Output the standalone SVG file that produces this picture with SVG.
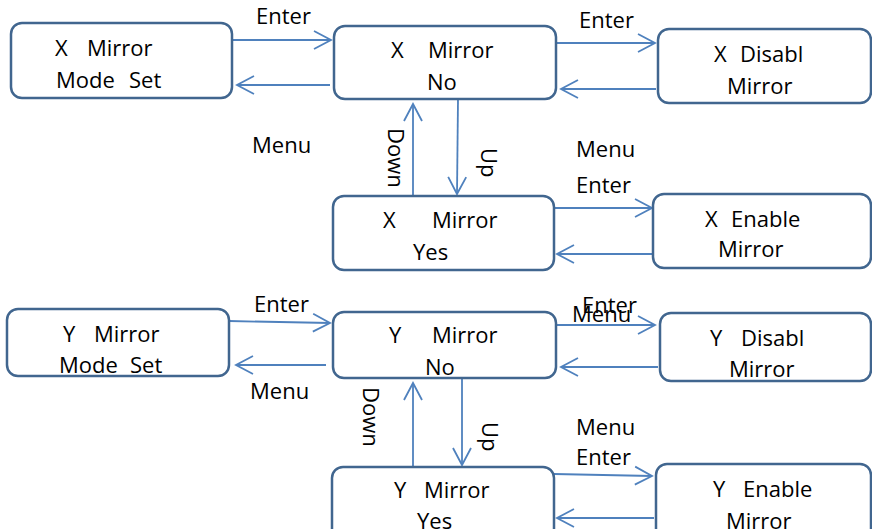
<svg xmlns="http://www.w3.org/2000/svg" width="872" height="529" viewBox="0 0 872 529">
<style>
.box{fill:#fff;stroke:#41668f;stroke-width:2.5}
.t{font-family:"Open Sans","Liberation Sans",sans-serif;font-size:22px;fill:#000}
.c{fill:none;stroke:#4f81bd;stroke-width:1.8}
</style>
<defs>
<marker id="ah" markerUnits="userSpaceOnUse" markerWidth="22" markerHeight="22" refX="17" refY="9" orient="auto" overflow="visible">
<path d="M0,0 L17,9 L0,18" fill="none" stroke="#4f81bd" stroke-width="1.8"/>
</marker>
</defs>
<rect width="872" height="529" fill="#fff"/>
<g id="connectors">
<path class="c" marker-end="url(#ah)" d="M232,40 L331,40"/>
<path class="c" marker-end="url(#ah)" d="M330,85 L237,85"/>
<path class="c" marker-end="url(#ah)" d="M556,43 L655,43"/>
<path class="c" marker-end="url(#ah)" d="M656,89 L561,89"/>
<path class="c" marker-end="url(#ah)" d="M413,196 L413,104"/>
<path class="c" marker-end="url(#ah)" d="M458,99 L457,194"/>
<path class="c" marker-end="url(#ah)" d="M554,208 L652,208"/>
<path class="c" marker-end="url(#ah)" d="M652,254 L557,254"/>
<path class="c" marker-end="url(#ah)" d="M229,321 L330,323"/>
<path class="c" marker-end="url(#ah)" d="M326,365 L236,365"/>
<path class="c" marker-end="url(#ah)" d="M556,325 L655,325"/>
<path class="c" marker-end="url(#ah)" d="M658,367 L561,367"/>
<path class="c" marker-end="url(#ah)" d="M413,466 L413,383"/>
<path class="c" marker-end="url(#ah)" d="M462,378 L462,465"/>
<path class="c" marker-end="url(#ah)" d="M554,474 L652,476"/>
<path class="c" marker-end="url(#ah)" d="M654,518 L557,518"/>
</g>
<g id="labels">
<text class="t" x="256" y="24">Enter</text>
<text class="t" x="252" y="153">Menu</text>
<text class="t" x="579" y="28">Enter</text>
<text class="t" x="576" y="157">Menu</text>
<text class="t" x="576" y="193">Enter</text>
<text class="t" transform="translate(388,128) rotate(90)">Down</text>
<text class="t" transform="translate(481,148) rotate(90)">Up</text>
<text class="t" x="254" y="312">Enter</text>
<text class="t" x="250" y="399">Menu</text>
<text class="t" x="582" y="313">Enter</text>
<text class="t" x="572" y="322">Menu</text>
<text class="t" x="576" y="435">Menu</text>
<text class="t" x="576" y="465">Enter</text>
<text class="t" transform="translate(363,387) rotate(90)">Down</text>
<text class="t" transform="translate(482,422) rotate(90)">Up</text>
</g>
<g id="x-mode-set">
<rect class="box" x="11" y="23" width="221" height="75" rx="11"/>
<text class="t" y="56"><tspan x="55">X </tspan><tspan x="87">Mirror</tspan></text>
<text class="t" y="88"><tspan x="56">Mode </tspan><tspan x="129">Set</tspan></text>
</g>
<g id="x-mirror-no">
<rect class="box" x="334" y="26" width="222" height="73" rx="11"/>
<text class="t" y="58"><tspan x="391">X </tspan><tspan x="428">Mirror</tspan></text>
<text class="t" x="427" y="90">No</text>
</g>
<g id="x-disable">
<rect class="box" x="658" y="29" width="213" height="74" rx="11"/>
<text class="t" y="62"><tspan x="714">X </tspan><tspan x="740">Disabl</tspan></text>
<text class="t" x="727" y="94">Mirror</text>
</g>
<g id="x-mirror-yes">
<rect class="box" x="333" y="196" width="221" height="74" rx="11"/>
<text class="t" y="228"><tspan x="383">X </tspan><tspan x="432">Mirror</tspan></text>
<text class="t" x="413" y="260">Yes</text>
</g>
<g id="x-enable">
<rect class="box" x="653" y="194" width="218" height="74" rx="11"/>
<text class="t" y="227"><tspan x="705">X </tspan><tspan x="731">Enable</tspan></text>
<text class="t" x="718" y="257">Mirror</text>
</g>
<g id="y-mode-set">
<rect class="box" x="7" y="309" width="222" height="67" rx="11"/>
<text class="t" y="342"><tspan x="63">Y </tspan><tspan x="94">Mirror</tspan></text>
<text class="t" y="373"><tspan x="59">Mode </tspan><tspan x="130">Set</tspan></text>
</g>
<g id="y-mirror-no">
<rect class="box" x="333" y="312" width="223" height="66" rx="11"/>
<text class="t" y="343"><tspan x="389">Y </tspan><tspan x="432">Mirror</tspan></text>
<text class="t" x="425" y="375">No</text>
</g>
<g id="y-disable">
<rect class="box" x="660" y="313" width="211" height="68" rx="11"/>
<text class="t" y="346"><tspan x="710">Y </tspan><tspan x="741">Disabl</tspan></text>
<text class="t" x="729" y="377">Mirror</text>
</g>
<g id="y-mirror-yes">
<rect class="box" x="332" y="467" width="222" height="80" rx="11"/>
<text class="t" y="498"><tspan x="394">Y </tspan><tspan x="424">Mirror</tspan></text>
<text class="t" x="417" y="529">Yes</text>
</g>
<g id="y-enable">
<rect class="box" x="656" y="464" width="215" height="80" rx="11"/>
<text class="t" y="497"><tspan x="713">Y </tspan><tspan x="743">Enable</tspan></text>
<text class="t" x="726" y="529">Mirror</text>
</g>
</svg>
